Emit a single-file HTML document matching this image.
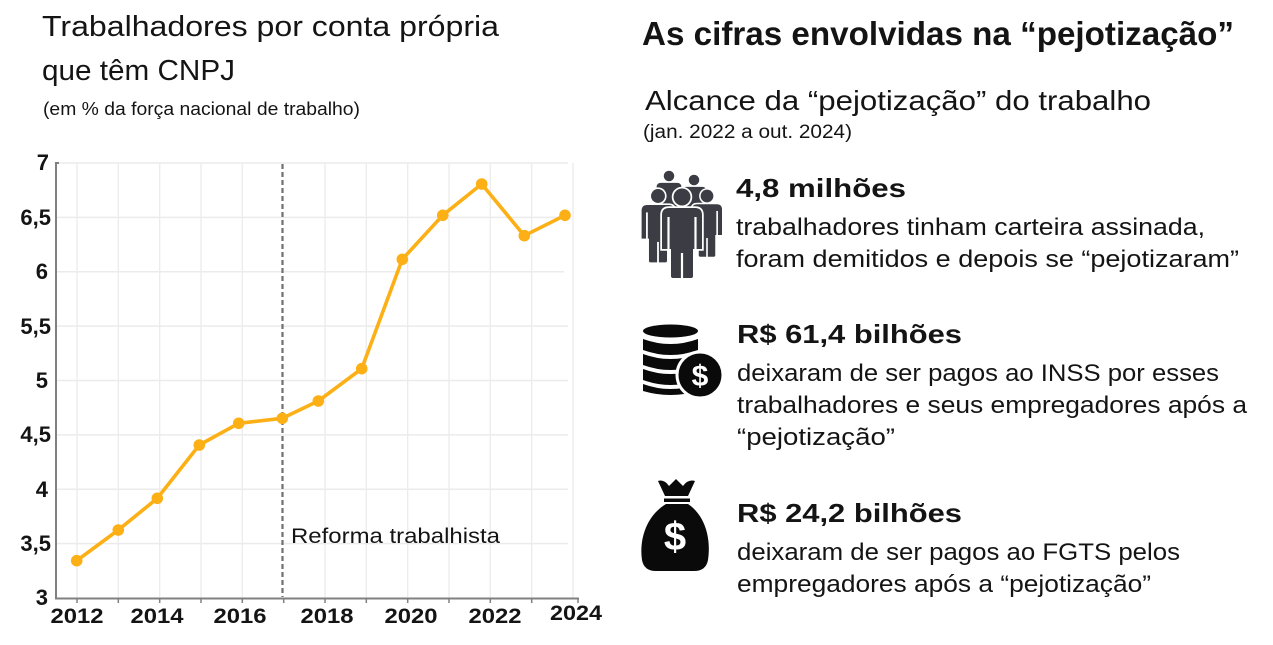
<!DOCTYPE html>
<html>
<head>
<meta charset="utf-8">
<style>
html,body{margin:0;padding:0;background:#fff;}
svg{display:block;}
text{font-family:"Liberation Sans",Arial,sans-serif;fill:#141414;}
.b{font-weight:bold;}
</style>
</head>
<body>
<svg width="1273" height="645" viewBox="0 0 1273 645" xmlns="http://www.w3.org/2000/svg">
<rect width="1273" height="645" fill="#fff"/>

<!-- Left titles -->
<text x="42" y="36" font-size="29" textLength="457" lengthAdjust="spacingAndGlyphs">Trabalhadores por conta própria</text>
<text x="42" y="80" font-size="29" textLength="193" lengthAdjust="spacingAndGlyphs">que têm CNPJ</text>
<text x="43" y="115" font-size="18" textLength="317" lengthAdjust="spacingAndGlyphs">(em % da força nacional de trabalho)</text>

<!-- Gridlines horizontal -->
<g stroke="#ebebeb" stroke-width="1.5">
<line x1="57" y1="163" x2="568" y2="163"/>
<line x1="57" y1="217.4" x2="568" y2="217.4"/>
<line x1="57" y1="271.75" x2="564" y2="271.75"/>
<line x1="57" y1="326.1" x2="568" y2="326.1"/>
<line x1="57" y1="380.5" x2="568" y2="380.5"/>
<line x1="57" y1="434.9" x2="568" y2="434.9"/>
<line x1="57" y1="489.25" x2="568" y2="489.25"/>
<line x1="57" y1="543.6" x2="568" y2="543.6"/>
</g>
<!-- Gridlines vertical -->
<g stroke="#ececec" stroke-width="1.3">
<line x1="77" y1="163" x2="77" y2="598"/>
<line x1="118.3" y1="163" x2="118.3" y2="598"/>
<line x1="159.7" y1="163" x2="159.7" y2="598"/>
<line x1="201" y1="163" x2="201" y2="598"/>
<line x1="242.3" y1="163" x2="242.3" y2="598"/>
<line x1="325" y1="163" x2="325" y2="598"/>
<line x1="366.3" y1="163" x2="366.3" y2="598"/>
<line x1="407.7" y1="163" x2="407.7" y2="598"/>
<line x1="449" y1="163" x2="449" y2="598"/>
<line x1="490.3" y1="163" x2="490.3" y2="598"/>
<line x1="531.7" y1="163" x2="531.7" y2="598"/>
<line x1="573" y1="163" x2="573" y2="598"/>
</g>

<!-- Axes -->
<g stroke="#808080" stroke-width="2" fill="none">
<line x1="56" y1="162" x2="56" y2="599"/>
<line x1="55" y1="598.5" x2="579" y2="598.5"/>
<line x1="56" y1="163" x2="59" y2="163"/>
</g>
<g stroke="#808080" stroke-width="1.5">
<line x1="77" y1="598" x2="77" y2="603"/>
<line x1="118.3" y1="598" x2="118.3" y2="603"/>
<line x1="159.7" y1="598" x2="159.7" y2="603"/>
<line x1="201" y1="598" x2="201" y2="603"/>
<line x1="242.3" y1="598" x2="242.3" y2="603"/>
<line x1="283.7" y1="598" x2="283.7" y2="603"/>
<line x1="325" y1="598" x2="325" y2="603"/>
<line x1="366.3" y1="598" x2="366.3" y2="603"/>
<line x1="407.7" y1="598" x2="407.7" y2="603"/>
<line x1="449" y1="598" x2="449" y2="603"/>
<line x1="490.3" y1="598" x2="490.3" y2="603"/>
<line x1="531.7" y1="598" x2="531.7" y2="603"/>
<line x1="578" y1="598" x2="578" y2="603"/>
</g>

<!-- Dashed reform line -->
<line x1="282.5" y1="164" x2="282.5" y2="597" stroke="#707070" stroke-width="2.2" stroke-dasharray="5,3"/>

<!-- Y labels -->
<g class="b" font-size="22" text-anchor="end">
<text x="49" y="170">7</text>
<text x="51" y="225">6,5</text>
<text x="48" y="279">6</text>
<text x="51" y="334">5,5</text>
<text x="48" y="388">5</text>
<text x="51" y="442">4,5</text>
<text x="48" y="497">4</text>
<text x="51" y="551">3,5</text>
<text x="48" y="605">3</text>
</g>

<!-- X labels -->
<g class="b" font-size="21" text-anchor="middle">
<text x="77" y="623" textLength="53" lengthAdjust="spacingAndGlyphs">2012</text>
<text x="157" y="623" textLength="53" lengthAdjust="spacingAndGlyphs">2014</text>
<text x="240" y="623" textLength="53" lengthAdjust="spacingAndGlyphs">2016</text>
<text x="327" y="623" textLength="53" lengthAdjust="spacingAndGlyphs">2018</text>
<text x="411" y="623" textLength="53" lengthAdjust="spacingAndGlyphs">2020</text>
<text x="495" y="623" textLength="53" lengthAdjust="spacingAndGlyphs">2022</text>
<text x="576" y="620" textLength="52" lengthAdjust="spacingAndGlyphs">2024</text>
</g>

<text x="291" y="543" font-size="21.5" textLength="209" lengthAdjust="spacingAndGlyphs">Reforma trabalhista</text>

<!-- Series -->
<polyline fill="none" stroke="#FCB016" stroke-width="3.6" stroke-linejoin="round" stroke-linecap="round"
points="76.7,560.7 118.3,530 157.3,498.3 199.3,445 238.7,423.3 282.3,418.3 318.3,401 361.7,368.7 402.3,259.3 442.7,215.3 481.7,184 524.3,235.7 565,215.3"/>
<g fill="#FCB016">
<circle cx="76.7" cy="560.7" r="5.8"/>
<circle cx="118.3" cy="530" r="5.8"/>
<circle cx="157.3" cy="498.3" r="5.8"/>
<circle cx="199.3" cy="445" r="5.8"/>
<circle cx="238.7" cy="423.3" r="5.8"/>
<circle cx="282.3" cy="418.3" r="5.8"/>
<circle cx="318.3" cy="401" r="5.8"/>
<circle cx="361.7" cy="368.7" r="5.8"/>
<circle cx="402.3" cy="259.3" r="5.8"/>
<circle cx="442.7" cy="215.3" r="5.8"/>
<circle cx="481.7" cy="184" r="5.8"/>
<circle cx="524.3" cy="235.7" r="5.8"/>
<circle cx="565" cy="215.3" r="5.8"/>
</g>

<!-- Right titles -->
<text class="b" x="642" y="45" font-size="33" textLength="592" lengthAdjust="spacingAndGlyphs">As cifras envolvidas na “pejotização”</text>
<text x="645" y="110" font-size="28" textLength="506" lengthAdjust="spacingAndGlyphs">Alcance da “pejotização” do trabalho</text>
<text x="643" y="138" font-size="19" textLength="209" lengthAdjust="spacingAndGlyphs">(jan. 2022 a out. 2024)</text>

<!-- People icon -->
<defs>
<g id="person">
<circle cx="0" cy="0" r="8.5"/>
<path d="M-20,18 Q-20,11 -13,11 H13 Q20,11 20,18 V52 H-20 Z"/>
<rect x="-11" y="40" width="22" height="41" rx="2"/>
</g>
<g id="pseams" stroke="#fff" stroke-width="2.2">
<line x1="-13.5" y1="20" x2="-13.5" y2="53"/>
<line x1="13.5" y1="20" x2="13.5" y2="53"/>
<line x1="0" y1="56" x2="0" y2="82"/>
</g>
</defs>
<g>
<g transform="translate(669,176) scale(0.62)">
<use href="#person" fill="#3c3c44"/>
</g>
<g transform="translate(694,180) scale(0.62)">
<use href="#person" fill="#fff" stroke="#fff" stroke-width="5"/>
<use href="#person" fill="#3c3c44"/>
</g>
<g transform="translate(658,196) scale(0.82)">
<use href="#person" fill="#fff" stroke="#fff" stroke-width="4"/>
<use href="#person" fill="#3c3c44"/>
<use href="#pseams"/>
</g>
<g transform="translate(707,196) scale(0.75)">
<use href="#person" fill="#fff" stroke="#fff" stroke-width="4"/>
<use href="#person" fill="#3c3c44"/>
<use href="#pseams"/>
</g>
<g transform="translate(682,197)">
<use href="#person" fill="#fff" stroke="#fff" stroke-width="3.5"/>
<use href="#person" fill="#3c3c44"/>
<use href="#pseams"/>
</g>
</g>

<!-- Block 1 text -->
<text class="b" x="736" y="197" font-size="26" textLength="170" lengthAdjust="spacingAndGlyphs">4,8 milhões</text>
<text x="736" y="235" font-size="24" textLength="469" lengthAdjust="spacingAndGlyphs">trabalhadores tinham carteira assinada,</text>
<text x="736" y="267" font-size="24" textLength="503" lengthAdjust="spacingAndGlyphs">foram demitidos e depois se “pejotizaram”</text>

<!-- Coins icon -->
<g fill="#0a0a0a">
<ellipse cx="670.5" cy="331" rx="27.5" ry="6.5"/>
<path d="M643,339 Q670.5,349 698,339 V350 Q670.5,360 643,350 Z"/>
<path d="M643,354 Q670.5,364 698,354 V365 Q670.5,375 643,365 Z"/>
<path d="M643,369 Q670.5,379 698,369 V380 Q670.5,390 643,380 Z"/>
<path d="M643,384 Q670.5,394 698,384 V391 Q670.5,399 643,391 Z"/>
<circle cx="700" cy="375" r="23" stroke="#fff" stroke-width="3"/>
</g>
<text class="b" x="700" y="386" font-size="30" text-anchor="middle" style="fill:#fff">$</text>

<!-- Block 2 text -->
<text class="b" x="737" y="343" font-size="26" textLength="225" lengthAdjust="spacingAndGlyphs">R$ 61,4 bilhões</text>
<text x="737" y="381" font-size="24" textLength="482" lengthAdjust="spacingAndGlyphs">deixaram de ser pagos ao INSS por esses</text>
<text x="737" y="413" font-size="24" textLength="510" lengthAdjust="spacingAndGlyphs">trabalhadores e seus empregadores após a</text>
<text x="737" y="445" font-size="24" textLength="158" lengthAdjust="spacingAndGlyphs">“pejotização”</text>

<!-- Money bag icon -->
<g fill="#0a0a0a">
<path d="M658,481 Q664,479 669,486 L676,479 L683,486 Q688,479 695,481 L688,496 H665 Z"/>
<rect x="664" y="498.5" width="26" height="3.5"/>
<path d="M666,504 H688 C706,516 711,540 708,560 Q706,571 694,571 H656 Q644,571 642,560 C639,540 646,516 666,504 Z"/>
</g>
<text class="b" x="675" y="550" font-size="40" text-anchor="middle" style="fill:#fff">$</text>

<!-- Block 3 text -->
<text class="b" x="737" y="522" font-size="26" textLength="225" lengthAdjust="spacingAndGlyphs">R$ 24,2 bilhões</text>
<text x="737" y="560" font-size="24" textLength="443" lengthAdjust="spacingAndGlyphs">deixaram de ser pagos ao FGTS pelos</text>
<text x="737" y="592" font-size="24" textLength="414" lengthAdjust="spacingAndGlyphs">empregadores após a “pejotização”</text>
</svg>
</body>
</html>
